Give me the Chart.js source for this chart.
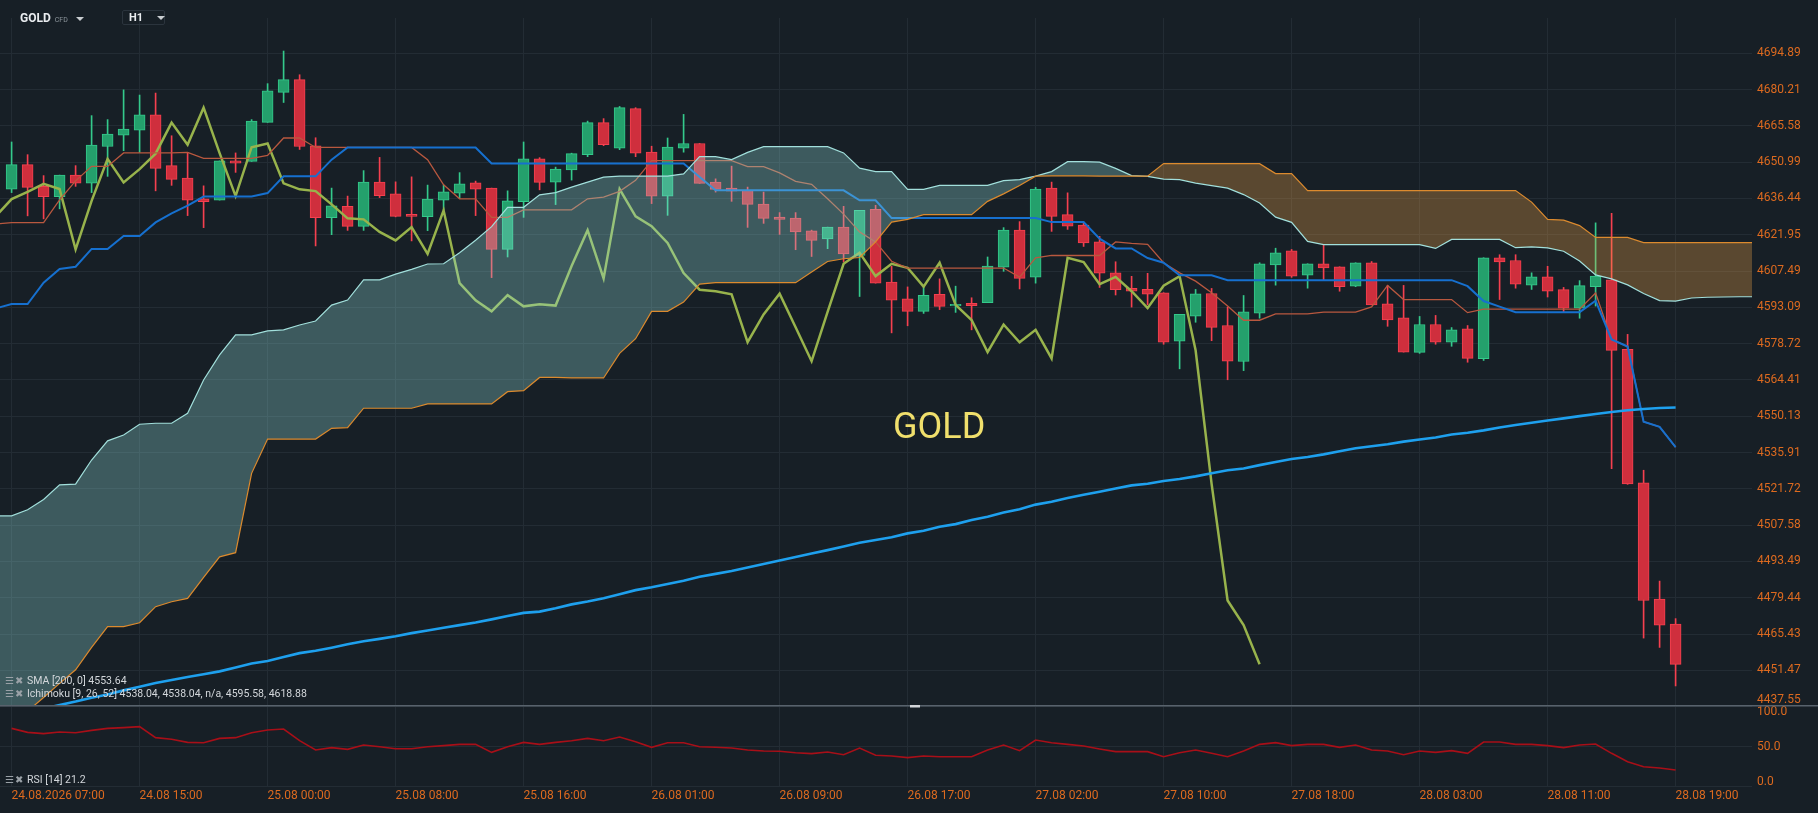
<!DOCTYPE html>
<html lang="en">
<head>
<meta charset="UTF-8">
<title>GOLD H1</title>
<script src="https://cdn.jsdelivr.net/npm/chart.js"></script>
<style>
  html, body { margin: 0; padding: 0; background: #171f26; overflow: hidden; }
  body { width: 1818px; height: 813px; position: relative; font-family: Roboto, sans-serif; }
  #mainWrap { position: absolute; left: 0; top: 0; width: 1818px; height: 705px; }
  #rsiWrap { position: absolute; left: 0; top: 705px; width: 1818px; height: 108px; }
  .hdr { position: absolute; top: 10px; height: 16px; line-height: 16px; color: #e9ecef; white-space: nowrap; }
  .sym { left: 20px; font-size: 12px; font-weight: 700; }
  .sym small { font-size: 7px; font-weight: 400; color: #8d959c; margin-left: 4px; }
  .tri { display: inline-block; width: 0; height: 0; border-left: 4px solid transparent; border-right: 4px solid transparent; border-top: 4px solid #c9cdd1; vertical-align: middle; margin-left: 8px; }
  .tf { left: 122px; width: 41px; height: 13px; line-height: 13px; border: 1px solid #2b343d; border-radius: 2px; font-size: 11px; font-weight: 700; }
  .tf span { margin-left: 6px; }
  .watermark { position: absolute; left: 893px; top: 408px; font: 400 36px/36px Roboto, sans-serif; color: #f0df6c; }
  .lg { position: absolute; left: 5px; height: 13px; line-height: 13px; font-size: 10.5px; color: #d3d7db; white-space: nowrap; }
  .lg .ic { color: #9aa1a7; font-family: "DejaVu Sans", sans-serif; font-size: 10px; margin-right: 1px; }
</style>
</head>
<body>
  <div id="mainWrap"><canvas id="mainChart"></canvas></div>
  <div id="rsiWrap"><canvas id="rsiChart"></canvas></div>

  <div class="hdr sym">GOLD<small>CFD</small><span class="tri"></span></div>
  <div class="hdr tf"><span>H1</span><span class="tri" style="margin-left:14px"></span></div>
  <div class="watermark">GOLD</div>
  <div class="lg" style="top:674px"><span class="ic">☰</span><span class="ic">✖</span> SMA [200, 0] 4553.64</div>
  <div class="lg" style="top:687px"><span class="ic">☰</span><span class="ic">✖</span> Ichimoku [9, 26, 52] 4538.04, 4538.04, n/a, 4595.58, 4618.88</div>
  <div class="lg" style="top:773px"><span class="ic">☰</span><span class="ic">✖</span> RSI [14] 21.2</div>

  <script>
    // hourly bars, 24.08 07:00 .. 28.08 19:00 (bar 0 .. bar 104)
    const timeLabels = ['24.08.2026 07:00', '24.08 15:00', '25.08 00:00', '25.08 08:00', '25.08 16:00',
      '26.08 01:00', '26.08 09:00', '26.08 17:00', '27.08 02:00', '27.08 10:00', '27.08 18:00',
      '28.08 03:00', '28.08 11:00', '28.08 19:00'];
    const labelBars = [0, 8, 16, 24, 32, 40, 48, 56, 64, 72, 80, 88, 96, 104];
    const priceTicks = [4694.89, 4680.21, 4665.58, 4650.99, 4636.44, 4621.95, 4607.49, 4593.09, 4578.72,
      4564.41, 4550.13, 4535.91, 4521.72, 4507.58, 4493.49, 4479.44, 4465.43, 4451.47, 4437.55];
    const rsiTicks = [100, 50, 0];

    const opens = [4640.2,4650.0,4641.3,4637.2,4645.8,4642.6,4657.3,4661.8,4663.8,4670.0,
      4649.6,4644.6,4636.3,4635.8,4651.5,4651.3,4667.0,4679.1,4684.2,4657.6,
      4628.8,4633.3,4625.3,4643.0,4638.3,4630.1,4629.2,4635.8,4638.6,4642.7,
      4640.6,4616.1,4635.2,4652.3,4643.0,4647.9,4654.0,4666.9,4656.6,4672.5,
      4655.0,4637.4,4656.6,4658.5,4643.0,4640.6,4639.7,4634.2,4629.0,4628.6,
      4623.5,4620.3,4625.0,4613.7,4632.1,4603.1,4596.5,4591.5,4598.3,4593.7,
      4594.7,4595.0,4609.0,4623.8,4605.1,4640.6,4630.0,4625.8,4619.1,4606.8,
      4600.6,4600.2,4598.9,4579.7,4589.6,4598.6,4585.9,4571.7,4590.8,4609.9,
      4615.6,4605.9,4610.4,4609.2,4601.5,4610.8,4594.5,4588.9,4575.3,4586.3,
      4579.3,4584.6,4572.8,4612.8,4611.7,4601.9,4605.2,4600.1,4592.8,4601.3,
      4604.0,4576.5,4524.1,4478.9,4469.3];
    const highs = [4659.1,4654.0,4645.6,4645.8,4649.6,4669.7,4668.1,4680.1,4678.0,4678.8,
      4661.6,4654.9,4641.5,4651.5,4654.7,4668.1,4682.6,4695.8,4686.2,4660.8,
      4640.6,4637.4,4647.6,4652.9,4643.1,4645.1,4641.8,4641.8,4646.8,4643.4,
      4640.6,4639.5,4659.1,4652.8,4649.0,4654.6,4667.5,4668.5,4673.4,4672.9,
      4657.4,4660.7,4670.2,4658.5,4644.3,4649.4,4641.0,4639.0,4630.8,4630.8,
      4623.8,4625.0,4633.3,4631.7,4633.7,4609.4,4601.2,4601.8,4604.4,4601.5,
      4596.9,4613.1,4624.8,4627.2,4640.9,4643.0,4638.7,4627.0,4621.3,4611.2,
      4605.4,4606.6,4598.9,4590.3,4600.2,4600.6,4593.2,4597.8,4610.8,4616.6,
      4616.1,4610.4,4617.8,4609.2,4610.8,4611.3,4601.8,4601.8,4589.5,4589.9,
      4585.1,4585.9,4612.8,4614.0,4614.0,4606.8,4609.4,4601.0,4603.7,4626.7,
      4630.5,4582.4,4529.0,4485.9,4471.4];
    const lows = [4638.8,4629.5,4628.3,4632.3,4641.3,4638.8,4645.3,4655.6,4654.9,4639.5,
      4641.7,4629.6,4624.8,4635.8,4646.9,4651.3,4667.0,4675.0,4656.1,4617.5,
      4622.0,4623.7,4623.7,4636.8,4629.1,4619.5,4623.6,4632.0,4636.4,4629.6,
      4604.9,4613.1,4628.9,4639.9,4634.0,4643.8,4653.2,4657.6,4656.0,4653.2,
      4634.4,4629.7,4655.0,4642.5,4639.0,4635.3,4624.9,4626.5,4622.1,4616.0,
      4613.3,4616.4,4611.1,4597.4,4602.7,4583.0,4585.8,4590.7,4592.2,4591.1,
      4584.2,4595.0,4607.4,4600.4,4602.7,4623.3,4624.1,4617.3,4601.0,4598.0,
      4593.2,4594.1,4578.5,4568.8,4587.2,4579.9,4564.5,4568.1,4588.8,4601.9,
      4605.0,4600.7,4603.8,4599.5,4601.3,4594.1,4585.6,4575.4,4574.9,4578.5,
      4577.7,4571.4,4572.1,4596.2,4600.7,4600.2,4597.2,4591.3,4588.8,4593.6,
      4529.6,4523.5,4463.9,4460.3,4445.5];
    const closes = [4650.0,4640.9,4637.2,4645.8,4642.6,4657.9,4662.3,4664.3,4670.0,4648.5,
      4644.1,4635.8,4635.2,4651.5,4650.6,4667.5,4679.7,4684.2,4657.3,4628.8,
      4633.5,4625.3,4643.0,4637.6,4629.3,4629.3,4636.2,4639.1,4642.3,4640.2,
      4616.1,4635.5,4652.3,4642.9,4648.2,4654.4,4666.9,4658.0,4672.9,4654.6,
      4637.4,4657.0,4658.5,4642.5,4640.1,4639.4,4634.1,4628.5,4628.1,4623.1,
      4619.7,4625.0,4614.3,4631.7,4602.7,4595.9,4591.5,4597.9,4593.5,4594.3,
      4593.8,4609.5,4623.8,4604.6,4640.2,4629.3,4625.4,4618.7,4606.7,4600.1,
      4599.5,4598.3,4579.3,4590.3,4598.5,4585.2,4571.8,4591.3,4610.4,4614.8,
      4605.5,4610.4,4608.8,4601.3,4610.8,4594.1,4588.1,4575.4,4586.3,4579.3,
      4584.2,4572.9,4612.8,4611.1,4602.3,4605.2,4599.5,4592.8,4601.7,4605.5,
      4576.1,4523.7,4478.4,4468.9,4453.8];

    // indicator lines start one bar left of the first candle (bar -1), at the plot edge
    const tenkan = [4626.2,
      4626.8,4626.8,4626.8,4635.9,4643.5,4649.3,4649.3,4654.7,4654.7,4654.7,
      4654.7,4654.9,4652.5,4652.5,4652.5,4652.5,4653.7,4660.7,4660.7,4656.9,
      4656.9,4656.9,4656.9,4656.9,4656.9,4656.9,4652.0,4641.9,4636.3,4636.3,
      4628.9,4628.9,4631.9,4631.9,4631.9,4631.9,4636.3,4637.0,4639.3,4643.7,
      4651.6,4651.6,4651.6,4651.6,4651.6,4651.6,4649.2,4649.2,4646.7,4643.3,
      4642.1,4636.3,4630.2,4623.1,4619.1,4611.4,4608.7,4608.7,4608.7,4608.7,
      4608.7,4608.7,4608.7,4605.1,4612.8,4613.7,4613.7,4613.7,4613.7,4619.1,
      4618.5,4618.1,4610.8,4606.8,4603.5,4598.9,4593.6,4588.0,4588.0,4590.5,
      4590.5,4590.5,4591.2,4591.2,4591.2,4593.3,4601.8,4596.2,4596.2,4596.2,
      4596.2,4591.0,4592.4,4592.4,4592.4,4592.4,4592.4,4592.4,4592.4,4598.8,
      4580.4,4577.6,4548.0,4546.0,4538.0];
    const kijun = [4592.7,
      4594.4,4594.4,4602.9,4608.3,4609.2,4616.3,4616.3,4621.5,4621.5,4626.9,
      4630.5,4633.6,4637.2,4637.2,4637.2,4637.2,4638.6,4645.3,4645.3,4645.3,
      4652.0,4656.9,4656.9,4656.9,4656.9,4656.9,4656.9,4656.9,4656.9,4656.9,
      4650.5,4650.5,4650.5,4650.5,4650.5,4650.5,4650.5,4650.5,4650.5,4650.5,
      4650.5,4650.5,4650.5,4645.0,4639.7,4639.7,4639.7,4639.7,4639.7,4639.7,
      4639.7,4639.7,4639.7,4635.7,4635.7,4628.6,4628.6,4628.6,4628.6,4628.6,
      4628.6,4628.6,4628.6,4628.6,4628.6,4627.0,4627.0,4627.0,4620.4,4616.5,
      4616.5,4612.7,4610.8,4605.8,4605.8,4605.8,4603.9,4603.9,4603.9,4603.9,
      4603.9,4603.9,4603.9,4603.9,4603.9,4603.9,4603.9,4603.9,4603.9,4603.9,
      4603.9,4601.5,4595.6,4593.4,4591.2,4591.2,4591.2,4591.2,4591.2,4595.7,
      4580.4,4577.6,4548.0,4546.0,4538.0];
    // leading spans also run 5 bars past the last candle (to bar 109)
    const spanA = [4511.2,
      4511.2,4513.6,4517.6,4523.3,4523.6,4533.0,4540.5,4542.8,4547.0,4547.4,
      4547.4,4551.3,4564.4,4574.3,4582.2,4582.2,4583.8,4584.2,4586.1,4587.7,
      4594.0,4596.0,4604.0,4604.0,4606.3,4608.2,4610.3,4610.4,4614.8,4619.8,
      4625.2,4632.9,4632.9,4637.9,4638.8,4641.0,4643.0,4645.0,4645.4,4645.4,
      4645.4,4645.4,4646.3,4653.2,4653.2,4652.0,4654.9,4657.2,4657.2,4657.2,
      4657.2,4657.2,4654.7,4648.6,4647.2,4647.2,4640.1,4640.1,4641.7,4641.7,
      4641.7,4641.7,4643.6,4644.0,4645.4,4647.2,4651.2,4651.2,4651.0,4648.5,
      4645.6,4645.3,4644.2,4644.0,4642.6,4641.6,4640.6,4638.0,4634.6,4629.0,
      4626.9,4619.3,4618.0,4618.0,4618.0,4618.0,4618.0,4618.0,4618.0,4616.5,
      4620.1,4620.1,4620.1,4620.1,4616.8,4617.1,4616.7,4615.4,4611.5,4606.0,
      4604.4,4602.0,4598.6,4595.8,4595.6,4596.8,4597.1,4597.2,4597.3,4597.3];
    const spanB = [4425.0,
      4430.4,4435.8,4441.1,4446.5,4451.7,4460.3,4468.3,4468.3,4469.8,4476.0,
      4477.9,4479.2,4487.3,4495.3,4496.9,4527.8,4541.2,4541.2,4541.2,4541.2,
      4545.4,4545.7,4553.3,4553.3,4553.3,4553.3,4555.0,4555.0,4555.0,4555.0,
      4555.0,4559.8,4560.2,4565.4,4565.4,4565.2,4565.2,4565.2,4574.9,4580.7,
      4591.5,4591.5,4595.2,4602.3,4602.9,4602.9,4602.9,4602.9,4602.9,4602.9,
      4607.1,4611.3,4612.4,4612.9,4619.1,4627.0,4628.1,4630.0,4630.0,4630.0,
      4630.0,4635.3,4638.3,4641.6,4645.4,4645.5,4645.5,4645.5,4645.4,4645.4,
      4645.4,4645.4,4650.4,4650.4,4650.4,4650.4,4650.4,4650.4,4650.4,4646.4,
      4646.4,4639.6,4639.6,4639.6,4639.6,4639.6,4639.6,4639.6,4639.6,4639.6,
      4639.6,4639.6,4639.6,4639.6,4639.6,4635.0,4628.1,4627.8,4625.6,4620.9,
      4620.9,4620.9,4618.8,4618.8,4618.8,4618.8,4618.8,4618.8,4618.8,4618.8];
    const sma200 = [4432.8,
      4434.1,4435.5,4436.8,4438.2,4439.5,4441.0,4442.2,4443.8,4445.2,4446.6,
      4447.8,4448.9,4450.0,4451.1,4452.6,4454.1,4455.1,4456.6,4458.1,4459.0,
      4460.2,4461.5,4462.7,4463.6,4464.6,4465.8,4466.8,4467.9,4468.9,4469.9,
      4471.1,4472.4,4473.6,4474.1,4475.4,4476.9,4478.0,4479.3,4480.8,4482.4,
      4483.5,4484.8,4486.0,4487.6,4488.7,4489.8,4491.2,4492.5,4493.9,4495.2,
      4496.6,4497.9,4499.3,4500.8,4501.8,4502.9,4504.4,4505.4,4507.0,4508.0,
      4509.6,4510.9,4512.5,4513.8,4515.6,4516.7,4518.2,4519.4,4520.6,4521.9,
      4523.1,4523.7,4524.8,4525.6,4526.6,4527.8,4529.0,4529.7,4531.0,4532.2,
      4533.4,4534.2,4535.2,4536.4,4537.6,4538.4,4539.2,4540.2,4541.0,4541.8,
      4543.0,4543.7,4544.6,4545.7,4546.7,4547.6,4548.5,4549.3,4550.2,4551.0,
      4551.8,4552.5,4553.0,4553.4,4553.6];
    const rsi14 = [72.9,67.9,66.3,68.3,67.5,70.4,72.9,73.8,75.0,61.3,
      59.2,55.4,55.0,60.4,61.3,67.5,70.8,72.1,57.5,45.8,
      48.8,46.7,52.1,50.0,47.5,47.5,50.0,51.3,52.9,52.9,
      42.9,50.0,55.4,52.9,55.4,57.5,60.4,57.5,62.1,56.3,
      49.2,55.0,55.0,50.0,49.2,48.3,45.8,44.6,44.2,42.5,
      41.3,43.3,40.0,48.3,39.2,38.3,36.3,38.3,37.5,37.5,
      37.5,45.8,52.1,45.0,58.3,55.0,52.9,50.8,47.1,43.8,
      43.8,43.8,37.5,42.5,45.8,41.7,37.5,44.6,52.9,55.0,
      51.3,52.9,52.9,49.2,52.1,45.8,44.6,40.0,44.6,42.9,
      45.0,41.7,55.8,55.8,52.9,52.9,51.3,48.8,52.1,53.3,
      41.7,31.3,25.0,23.3,20.8];

    const CHIKOU_SHIFT = 26;
    const GRID = '#232c34';
    const AXIS_TXT = '#dd6a1f';
    const X_MIN = -0.725, X_MAX = 108.775;

    const up = closes.map((c, i) => c >= opens[i]);
    const pts = (arr, start = 0) => arr.map((v, i) => ({ x: start + i, y: v }));

    // keep the edge price labels inside their pane, like the platform does
    const clampLabels = {
      id: 'clampLabels',
      beforeDraw(chart) {
        const s = chart.scales.y;
        s.getLabelItems().forEach(it => {
          const t = it.options.translation;
          t[1] = Math.max(s.top + 7, Math.min(s.bottom - 5, t[1]));
        });
      }
    };

    const paneSeparator = {
      id: 'paneSeparator',
      afterDraw(chart) {
        const ctx = chart.ctx;
        ctx.save();
        ctx.fillStyle = '#58626c';
        ctx.fillRect(0, 0, chart.width, 1.5);
        ctx.fillStyle = '#d2d5d8';
        ctx.fillRect(910, 0, 10, 2.5);
        ctx.restore();
      }
    };

    function xAxis(showLabels) {
      return {
        type: 'linear', min: X_MIN, max: X_MAX, bounds: 'data', offset: false,
        grid: { color: GRID, drawTicks: false, offset: false },
        border: { display: false },
        afterBuildTicks: s => { s.ticks = labelBars.map(v => ({ value: v })); },
        afterFit: s => { s.height = showLabels ? 26 : 0; s.paddingLeft = 0; s.paddingRight = 0; },
        ticks: {
          display: showLabels, autoSkip: false, maxRotation: 0, minRotation: 0,
          align: 'start', padding: 2, color: AXIS_TXT,
          font: { family: 'Roboto', size: 12 },
          callback: (v, i) => timeLabels[i]
        }
      };
    }

    function yAxis(type, min, max, tickVals, fmt) {
      return {
        type: type, position: 'right', min: min, max: max, bounds: 'data',
        grid: { color: GRID, drawTicks: false },
        border: { display: false },
        afterBuildTicks: s => { s.ticks = tickVals.map(v => ({ value: v })); },
        afterFit: s => { s.width = 66; s.paddingTop = 0; s.paddingBottom = 0; },
        ticks: {
          padding: 5, color: AXIS_TXT, font: { family: 'Roboto', size: 12 },
          callback: (v, i) => tickVals[i].toFixed(fmt)
        }
      };
    }

    const mainCtx = document.getElementById('mainChart').getContext('2d');
    new Chart(mainCtx, {
      type: 'line',
      data: {
        datasets: [
          {
            type: 'bar', label: 'wicks', order: 7, grouped: false,
            data: lows.map((l, i) => ({ x: i, y: [l, highs[i]] })),
            backgroundColor: up.map(u => u ? '#34c98b' : '#f5404f'),
            barThickness: 1
          },
          {
            type: 'bar', label: 'bodies', order: 6, grouped: false,
            data: opens.map((o, i) => ({ x: i, y: [o, closes[i]] })),
            backgroundColor: up.map(u => u ? '#24a06c' : '#cf2f3d'),
            borderColor: up.map(u => u ? '#34c98b' : '#f5404f'),
            borderWidth: 1, borderSkipped: false, barThickness: 11, minBarLength: 1
          },
          {
            // lagging span: closes drawn 26 bars back
            label: 'Chikou', order: 5,
            data: pts(closes.slice(CHIKOU_SHIFT - 1), -1),
            borderColor: '#98b34c', borderWidth: 2.5, pointRadius: 0, fill: false
          },
          {
            label: 'Tenkan', order: 4,
            data: pts(tenkan, -1),
            borderColor: '#b9583f', borderWidth: 1.3, pointRadius: 0, fill: false
          },
          {
            label: 'Kijun', order: 3,
            data: pts(kijun, -1),
            borderColor: '#1670cf', borderWidth: 2, pointRadius: 0, fill: false
          },
          {
            label: 'Span B', order: 1,
            data: pts(spanB, -1),
            borderColor: '#dc8a2e', borderWidth: 1.2, pointRadius: 0, fill: false
          },
          {
            label: 'Span A', order: 2,
            data: pts(spanA, -1),
            borderColor: '#a2e0dc', borderWidth: 1.2, pointRadius: 0,
            fill: { target: 5, above: 'rgba(150,230,225,0.3)', below: 'rgba(246,169,72,0.3)' }
          },
          {
            label: 'SMA 200', order: 0,
            data: pts(sma200, -1),
            borderColor: '#1ea0ee', borderWidth: 2.6, pointRadius: 0, fill: false
          }
        ]
      },
      options: {
        responsive: true, maintainAspectRatio: false, animation: false,
        layout: { padding: { top: 18, left: 0, right: 0, bottom: 0 } },
        plugins: { legend: { display: false }, tooltip: { enabled: false } },
        scales: {
          x: xAxis(false),
          y: yAxis('logarithmic', 4438.2, 4709.2, priceTicks, 2)
        }
      },
      plugins: [clampLabels]
    });

    const rsiCtx = document.getElementById('rsiChart').getContext('2d');
    new Chart(rsiCtx, {
      type: 'line',
      data: {
        datasets: [{
          label: 'RSI 14',
          data: pts(rsi14),
          borderColor: '#a80f18', borderWidth: 1.6, pointRadius: 0, fill: false
        }]
      },
      options: {
        responsive: true, maintainAspectRatio: false, animation: false,
        layout: { padding: 0 },
        plugins: { legend: { display: false }, tooltip: { enabled: false } },
        scales: {
          x: xAxis(true),
          y: yAxis('linear', -0.4, 102.1, rsiTicks, 1)
        }
      },
      plugins: [clampLabels, paneSeparator]
    });
  </script>
</body>
</html>
